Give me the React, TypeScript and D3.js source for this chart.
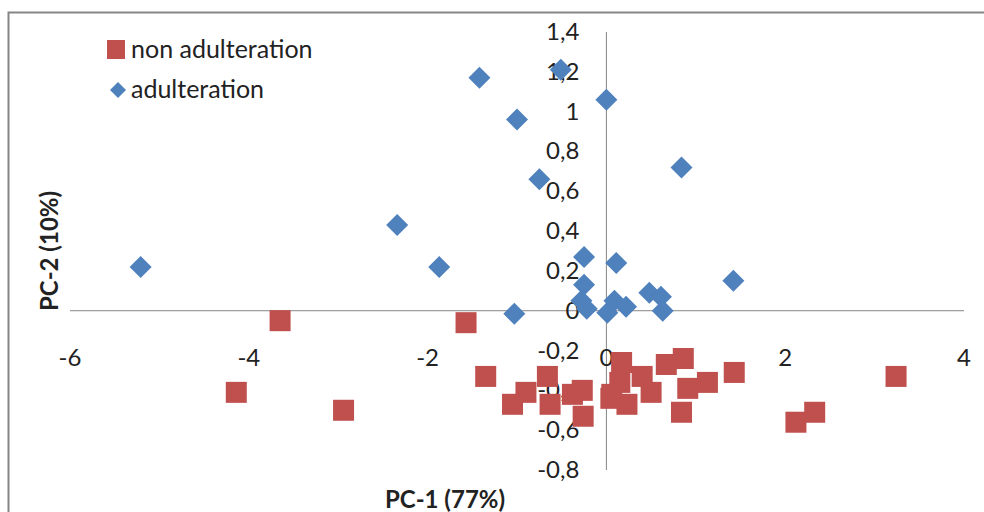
import React, { useEffect, useRef } from 'react';
import * as d3 from 'd3';

// non adulteration samples (PC-1, PC-2)
const nonAdultX = [-3.65, -1.57, -4.14, -2.94, -1.35, -1.05, -0.9, -0.66, -0.63, -0.38, -0.27, -0.26, 0.06, 0.17, 0.15, 0.23, 0.4, 0.5, 0.67, 0.86, 0.84, 0.91, 1.13, 1.43, 2.12, 2.33, 3.24, 0.05];
const nonAdultY = [-0.05, -0.06, -0.41, -0.5, -0.33, -0.47, -0.41, -0.33, -0.47, -0.42, -0.4, -0.53, -0.42, -0.26, -0.36, -0.47, -0.33, -0.41, -0.27, -0.24, -0.51, -0.39, -0.36, -0.31, -0.56, -0.51, -0.33, -0.44];

// adulteration samples
const adultX = [-5.21, -2.34, -1.87, -1.42, -1.0, -0.75, -1.03, -0.51, 0.0, 0.84, 1.42, -0.25, -0.25, -0.28, -0.22, 0.11, 0.01, 0.09, 0.22, 0.48, 0.61, 0.63];
const adultY = [0.22, 0.43, 0.22, 1.17, 0.96, 0.66, -0.015, 1.21, 1.06, 0.72, 0.15, 0.27, 0.13, 0.05, 0.01, 0.24, -0.01, 0.05, 0.02, 0.09, 0.07, 0.0];

const xTicks = [-6, -4, -2, 0, 2, 4];
const yTicks = [-0.8, -0.6, -0.4, -0.2, 0, 0.2, 0.4, 0.6, 0.8, 1, 1.2, 1.4];

const RED = '#C0504D';
const BLUE = '#4F81BD';
const FONT = 'Lato, "Open Sans", sans-serif';

export default function App() {
  const svgRef = useRef<SVGSVGElement>(null);

  useEffect(() => {
    document.body.style.margin = '0';
    if (!svgRef.current) return;
    const width = 984;
    const height = 512;

    const svg = d3.select(svgRef.current);
    svg.selectAll('*').remove();
    svg.attr('width', width).attr('height', height).style('font-family', FONT);

    svg.append('rect').attr('width', width).attr('height', height).attr('fill', 'white');

    // outer chart border
    svg.append('rect')
      .attr('x', 8.5).attr('y', 12.5)
      .attr('width', 1000).attr('height', 520)
      .attr('fill', 'none')
      .attr('stroke', '#868686')
      .attr('stroke-width', 2);

    const x = d3.scaleLinear().domain([-6, 4]).range([70, 964]);
    const y = d3.scaleLinear().domain([-0.8, 1.4]).range([470, 32]);
    const fmt = (v: number) => d3.format('.1f')(v)
      .replace('\u2212', '-')
      .replace('.', ',')
      .replace(/,0$/, '')
      .replace(/^-0$/, '0');

    // axis lines
    svg.append('line')
      .attr('x1', x(-6)).attr('x2', x(4))
      .attr('y1', y(0)).attr('y2', y(0))
      .attr('stroke', '#868686').attr('stroke-width', 1);
    svg.append('line')
      .attr('x1', x(0)).attr('x2', x(0))
      .attr('y1', y(-0.8)).attr('y2', y(1.4))
      .attr('stroke', '#868686').attr('stroke-width', 1);

    // tick labels
    svg.selectAll('.xt')
      .data(xTicks)
      .enter()
      .append('text')
      .attr('x', d => x(d))
      .attr('y', y(0) + 55)
      .attr('text-anchor', 'middle')
      .style('font-size', '24px')
      .attr('fill', '#222')
      .text(d => String(d));

    svg.selectAll('.yt')
      .data(yTicks)
      .enter()
      .append('text')
      .attr('x', x(0) - 27)
      .attr('y', d => y(d) + 8)
      .attr('text-anchor', 'end')
      .style('font-size', '24px')
      .attr('fill', '#222')
      .text(d => fmt(d));

    // axis titles
    svg.append('text')
      .attr('x', 445).attr('y', 508)
      .attr('text-anchor', 'middle')
      .style('font-size', '24px').style('font-weight', 'bold')
      .attr('fill', '#222')
      .text('PC-1 (77%)');
    svg.append('text')
      .attr('transform', `translate(58,251) rotate(-90)`)
      .attr('text-anchor', 'middle')
      .style('font-size', '24px').style('font-weight', 'bold')
      .attr('fill', '#222')
      .text('PC-2 (10%)');

    // markers
    const red = d3.range(nonAdultX.length).map(i => [nonAdultX[i], nonAdultY[i]]);
    const blue = d3.range(adultX.length).map(i => [adultX[i], adultY[i]]);
    const sq = 21;
    const dm = 11;

    svg.selectAll('.red')
      .data(red)
      .enter()
      .append('rect')
      .attr('x', d => x(d[0]) - sq / 2)
      .attr('y', d => y(d[1]) - sq / 2)
      .attr('width', sq).attr('height', sq)
      .attr('fill', RED);

    const diamond = (cx: number, cy: number, r: number) =>
      `M${cx},${cy - r}L${cx + r},${cy}L${cx},${cy + r}L${cx - r},${cy}Z`;

    svg.selectAll('.blue')
      .data(blue)
      .enter()
      .append('path')
      .attr('d', d => diamond(x(d[0]), y(d[1]), dm))
      .attr('fill', BLUE);

    // legend
    svg.append('rect')
      .attr('x', 107).attr('y', 40)
      .attr('width', 18).attr('height', 19)
      .attr('fill', RED);
    svg.append('text')
      .attr('x', 131).attr('y', 58)
      .style('font-size', '25px').attr('fill', '#222')
      .text('non adulteration');
    svg.append('path')
      .attr('d', diamond(118, 90, 8))
      .attr('fill', BLUE);
    svg.append('text')
      .attr('x', 131).attr('y', 98)
      .style('font-size', '25px').attr('fill', '#222')
      .text('adulteration');
  }, []);

  return <svg ref={svgRef}></svg>;
}
